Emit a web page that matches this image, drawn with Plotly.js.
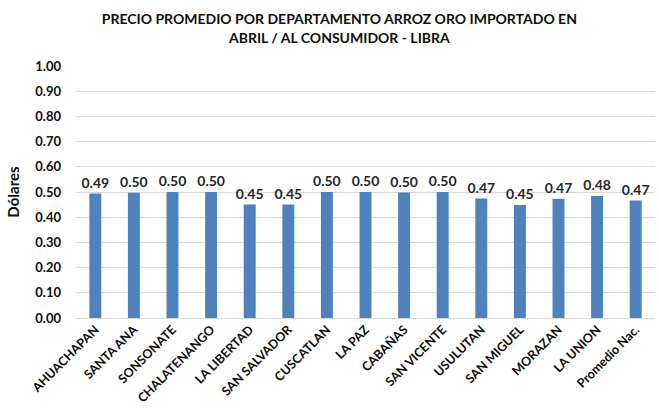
<!DOCTYPE html>
<html><head><meta charset="utf-8">
<script src="https://cdn.plot.ly/plotly-3.0.1.min.js"></script>
<style>body{margin:0;background:#fff}#c{width:659px;height:408px}</style>
</head><body><div id="c"></div>
<script>
const categories = ["AHUACHAPAN","SANTA ANA","SONSONATE","CHALATENANGO","LA LIBERTAD","SAN SALVADOR","CUSCATLAN","LA PAZ","CABAÑAS","SAN VICENTE","USULUTAN","SAN MIGUEL","MORAZAN","LA UNION","Promedio Nac."];
const prices = [0.494,0.497,0.50,0.50,0.45,0.45,0.50,0.50,0.498,0.50,0.474,0.448,0.473,0.484,0.466];
const yTicks = [0,0.1,0.2,0.3,0.4,0.5,0.6,0.7,0.8,0.9,1.0];

const font = "Lato, 'Open Sans', sans-serif";
Plotly.newPlot('c', [{
  type:'bar', x:categories, y:prices,
  marker:{color:'#4f81bd'},
  texttemplate:'<b>%{y:.2f}</b>', textposition:'outside', cliponaxis:false,
  constraintext:'none',
  textfont:{family:font, size:14, color:'#262626'},
  hoverinfo:'skip'
}], {
  width:659, height:408,
  margin:{l:76, r:4, t:66, b:90},
  bargap:0.69,
  paper_bgcolor:'#fff', plot_bgcolor:'#fff',
  title:{text:'<b>PRECIO PROMEDIO POR DEPARTAMENTO ARROZ ORO IMPORTADO EN<br>ABRIL / AL CONSUMIDOR - LIBRA</b>',
    x:0.515, xanchor:'center', yref:'container', y:0.94, yanchor:'middle',
    font:{family:font, size:14, color:'#0d0d0d'}},
  xaxis:{tickangle:-45, tickvals:categories, ticktext:categories.map(c=>'<b>'+c+'</b>'),
    tickfont:{family:font, size:12.5, color:'#0d0d0d'},
    showgrid:false, showline:false, ticks:'', ticklabelstandoff:1},
  yaxis:{range:[0,1], tickvals:yTicks, ticktext:yTicks.map(v=>'<b>'+v.toFixed(2)+'</b>'),
    tickfont:{family:font, size:13, color:'#0d0d0d'},
    gridcolor:'#d9d9d9', gridwidth:1, zeroline:true, zerolinecolor:'#d9d9d9', zerolinewidth:1,
    ticklabelstandoff:14,
    title:{text:'<b>Dólares</b>', font:{family:font, size:15, color:'#0d0d0d'}, standoff:12}},
  showlegend:false
}, {staticPlot:true});
</script></body></html>
